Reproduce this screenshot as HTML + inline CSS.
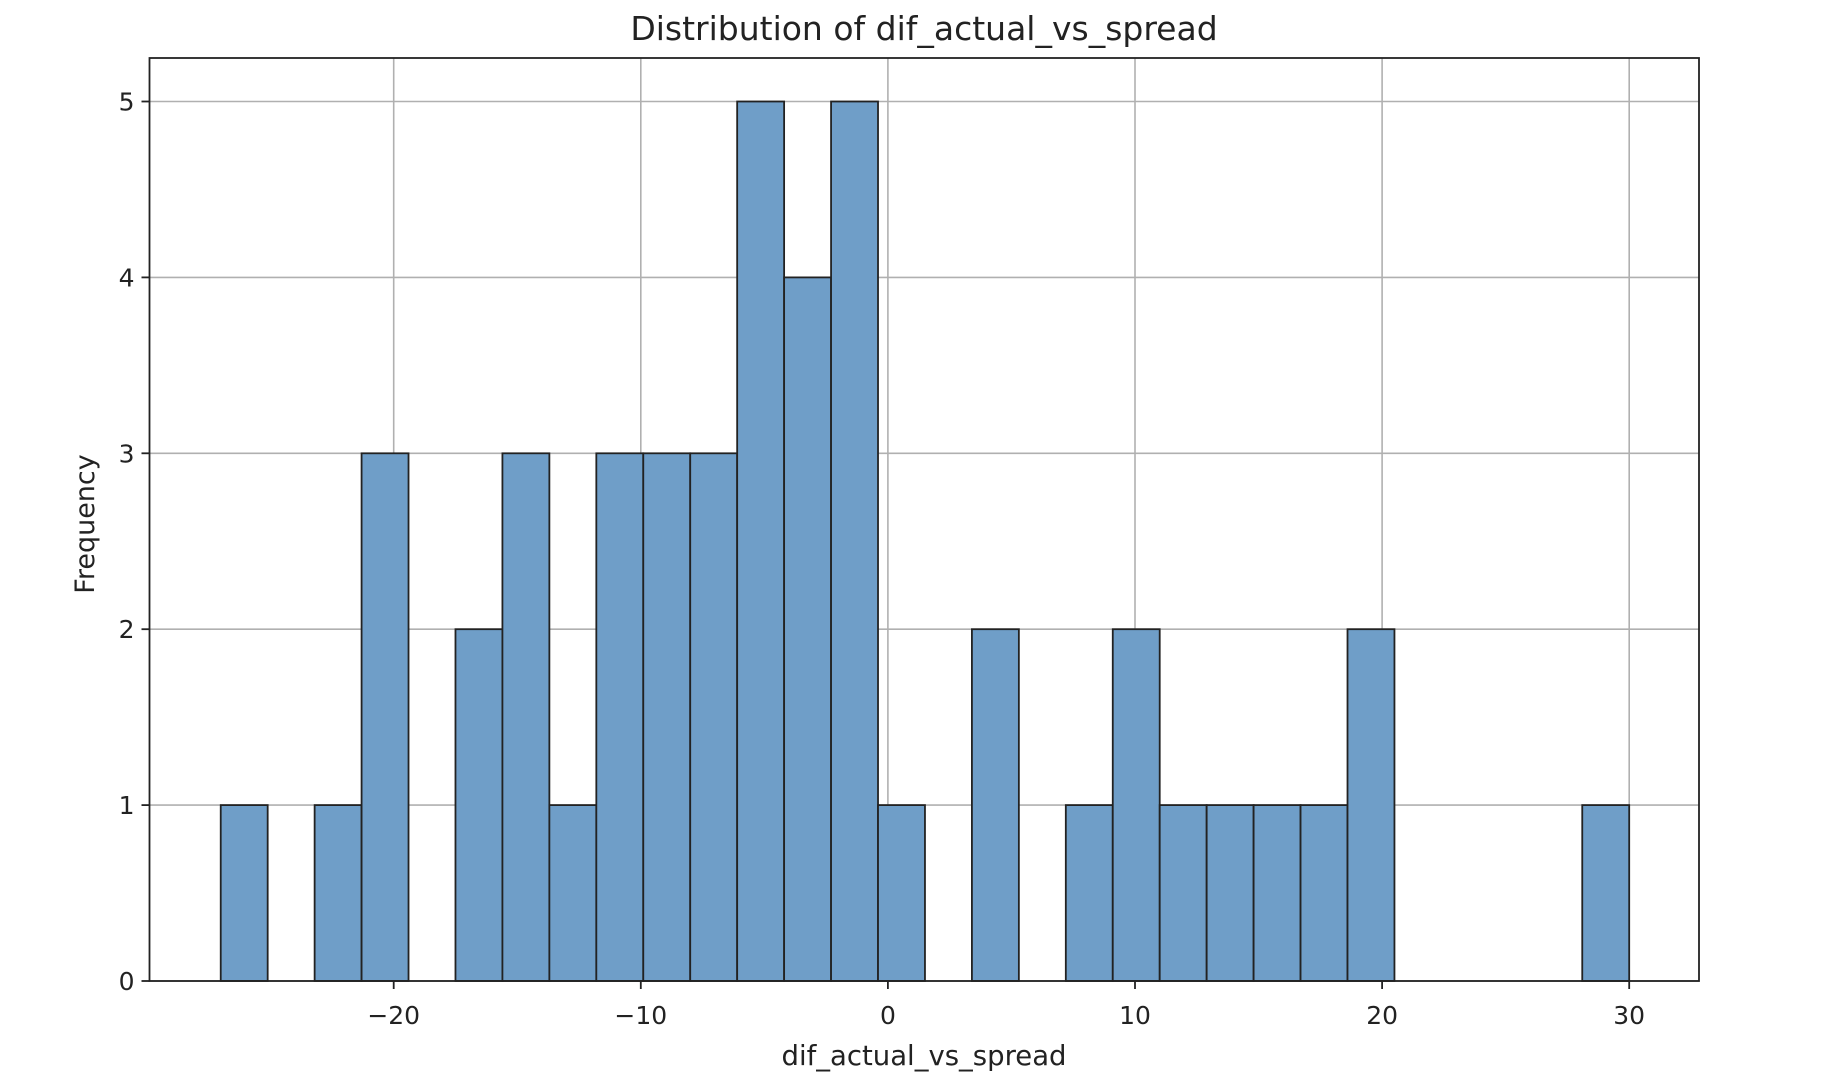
<!DOCTYPE html>
<html><head><meta charset="utf-8"><style>
body{margin:0;background:#fff}
svg{display:block;font-family:"DejaVu Sans","Liberation Sans",sans-serif}
</style></head><body>
<svg id="chart" width="1822" height="1088" viewBox="0 0 1822 1088" xmlns="http://www.w3.org/2000/svg">
<rect width="1822" height="1088" fill="#fff"/>
<g id="grid"></g><g id="bars"></g><g id="axes"></g>
</svg>
<script>
const counts = [1,0,1,3,0,2,3,1,3,3,3,5,4,5,1,0,2,0,1,2,1,1,1,1,2,0,0,0,0,1];
const binStart = -27.0;
const binEnd = 30.0;
const xTicks = [-20,-10,0,10,20,30];
const xTickLabels = ["\u221220","\u221210","0","10","20","30"];
const yTicks = [0,1,2,3,4,5];

const L=149.5,R=1699,T=58,B=981;
const x0px=887.9, xk=24.71, yk=175.9;
const sx=v=>x0px+v*xk;
const sy=v=>B-v*yk;
const NS="http://www.w3.org/2000/svg";
function mk(tag,attrs,parent){const e=document.createElementNS(NS,tag);for(const k in attrs)e.setAttribute(k,attrs[k]);parent.appendChild(e);return e;}
const grid=document.getElementById('grid'),bars=document.getElementById('bars'),axes=document.getElementById('axes');
xTicks.forEach((t,i)=>{
  const g=mk('line',{x1:sx(t),x2:sx(t),y1:T,y2:B,stroke:'#b0b0b0','stroke-width':1.6},grid);
  
  
});
yTicks.forEach(t=>{
  const g=mk('line',{x1:L,x2:R,y1:sy(t),y2:sy(t),stroke:'#b0b0b0','stroke-width':1.6},grid);
  
  
});
const w=(binEnd-binStart)/counts.length;
counts.forEach((c,i)=>{
  if(c<=0)return;
  const a=binStart+i*w,b=a+w;
  const r=mk('rect',{x:sx(a),y:sy(c),width:sx(b)-sx(a),height:sy(0)-sy(c),fill:'#6f9ec8',stroke:'#222','stroke-width':1.8},bars);
  
  
});
const fr=mk('rect',{x:L,y:T,width:R-L,height:B-T,fill:'none',stroke:'#222','stroke-width':1.8},axes);


xTicks.forEach((t,i)=>{
  mk('line',{x1:sx(t),x2:sx(t),y1:B,y2:B+8,stroke:'#222','stroke-width':1.8},axes);
  const tx=mk('text',{x:sx(t),y:1024,'text-anchor':'middle','font-size':25,fill:'#222'},axes);
  tx.textContent=xTickLabels[i];
  
  
});
yTicks.forEach(t=>{
  mk('line',{x1:L-8,x2:L,y1:sy(t),y2:sy(t),stroke:'#222','stroke-width':1.8},axes);
  const tx=mk('text',{x:L-15,y:sy(t)+9,'text-anchor':'end','font-size':25,fill:'#222'},axes);
  tx.textContent=String(t);
  
  
});
</script>
<script>
(function(){
const svg=document.getElementById('chart');const NS="http://www.w3.org/2000/svg";
let t=document.createElementNS(NS,'text');
t.setAttribute('x','924');t.setAttribute('y','40');t.setAttribute('text-anchor','middle');t.setAttribute('font-size','33');t.setAttribute('fill','#222');
t.textContent='Distribution of dif_actual_vs_spread';


svg.appendChild(t);
t=document.createElementNS(NS,'text');
t.setAttribute('x','924');t.setAttribute('y','1065');t.setAttribute('text-anchor','middle');t.setAttribute('font-size','27.5');t.setAttribute('fill','#222');
t.textContent='dif_actual_vs_spread';


svg.appendChild(t);
t=document.createElementNS(NS,'text');
t.setAttribute('transform','translate(94,524) rotate(-90)');t.setAttribute('text-anchor','middle');t.setAttribute('font-size','27');t.setAttribute('fill','#222');
t.textContent='Frequency';


svg.appendChild(t);
})();
</script>
</body></html>
